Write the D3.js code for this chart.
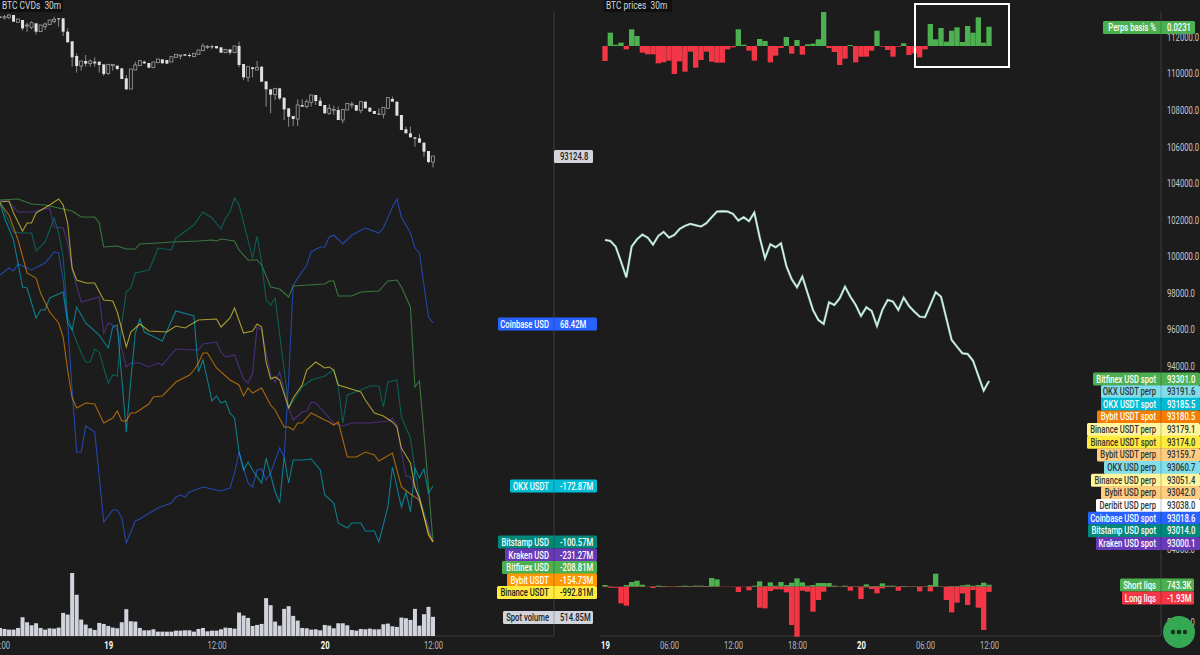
<!DOCTYPE html>
<html>
<head>
<meta charset="utf-8">
<title>BTC CVDs and prices</title>
<script src="https://cdn.jsdelivr.net/npm/d3@7"></script>
<style>
    html, body { margin: 0; padding: 0; background: #1c1c1c; overflow: hidden; }
    text { font-family: Roboto, sans-serif; }
</style>
</head>
<body>
<div id="chart"></div>
<script>
// left pane: 30m candles, one per bar from 18th 12:00 to 20th 12:00
const candleOpen = [104800,104688,104744,104940,104324,104520,104016,103904,104240,103540,103960,104128,104380,104660,104660,103540,102728,101496,100656,101076,100852,101020,101020,100796,100040,100684,100684,100460,99620,98724,100320,100684,101020,100908,100516,100936,101216,101160,100992,101384,101524,101636,101580,101440,101636,101944,102252,102308,102336,102224,101776,102056,101776,102336,100824,99704,100544,100320,100600,99368,98696,98248,98780,97996,97100,96456,96204,97380,97240,97604,98220,97744,97380,96680,96960,96960,96120,96960,97408,97380,96904,97660,97156,96876,96652,96596,97100,97884,97660,96540,95336,95000,94664,94580,94216,93516,92592];
const candleHigh = [104856,104940,105024,104940,104604,104520,104296,104408,104240,104100,104296,104520,104800,104660,104660,103820,102728,101720,101076,101580,101216,101384,101020,100796,100796,100796,100684,100460,99900,100404,101020,101104,101104,100908,100992,101244,101216,101160,101440,101636,101580,101636,101720,101720,102000,102560,102420,102420,102336,102224,102056,102056,102336,102700,100824,100600,100544,101076,100600,99368,98696,98780,98780,97996,97100,96456,97856,97856,97856,98220,98220,98024,97380,97436,97324,97240,97016,97520,97660,97380,97660,97660,97156,96876,97100,97184,97996,98080,97660,96540,95560,95560,94664,94944,94216,93516,93096];
const candleLow = [104688,104576,104576,104380,104324,103624,103512,103736,103288,103540,103680,104128,104240,103960,103176,102644,100600,100096,100264,100600,100600,100600,100096,99816,99900,100264,100320,99564,98640,98724,100320,100684,100824,100460,100516,100936,100880,100852,100992,101384,101216,101524,101384,101440,101636,101944,102084,102084,102140,101776,101776,101580,101776,100544,99480,99340,99704,100320,99340,97240,96680,97800,97800,96120,95560,95616,95616,97240,97100,97240,97380,97296,96680,96540,96540,96120,95840,96960,97100,96904,96680,97100,96820,96624,96596,96260,97100,97660,96484,95280,95000,94664,93880,94216,93040,92480,92144];
const candleClose = [104744,104800,104940,104380,104604,103820,104100,104296,103540,104100,104184,104520,104576,104576,103540,102644,101384,100656,101076,100852,101076,100880,100740,99984,100796,100796,100404,99564,98696,100404,100740,101104,100880,100516,100992,101244,100880,100852,101440,101636,101580,101524,101524,101720,102000,102336,102308,102252,102140,101776,102056,101776,102336,100740,99704,100600,100404,100544,99340,98696,98248,98780,97940,97016,96400,96204,97380,97240,97660,98220,97716,97296,96680,97100,97016,96120,97016,97520,97464,96904,97660,97100,96820,96624,96596,97184,97996,97660,96484,95280,95000,94664,94552,94216,93460,92592,93096];

// spot volume in millions, one per bar
const spotVolume = [216,189,171,171,216,504,369,288,342,216,171,207,198,225,621,576,1692,1107,441,306,207,162,351,324,270,225,207,369,720,396,387,216,153,153,180,117,117,117,117,144,144,153,153,117,189,216,126,144,144,180,225,216,198,630,549,486,270,297,324,1017,828,387,279,729,801,540,414,216,207,171,180,153,297,279,207,342,342,288,162,144,189,180,198,180,180,315,333,261,243,495,477,432,729,279,585,783,515];

// CVD lines are overlaid on their own scales, so these are relative readings: bar index + level in the pane
const bitfinexBars = [0,4,7,10,13,16,18,21,22,23,26,28,30,31,35,38,44,47,48,49,52,53,55,57,58,60,62,64,65,72,73,74,75,78,80,84,86,88,89,91,92,93,96];
const bitfinexCvd = [343,344,339,338,335,332,326,326,320,296,297,294,294,299,300,301,302,303,302,304,302,293,283,283,278,256,254,246,257,259,262,262,247,247,251,252,262,263,256,236,156,162,2];
const bitstampBars = [0,3,5,7,8,10,11,12,13,14,15,16,18,19,20,21,22,24,25,26,27,28,29,30,31,33,34,35,38,39,43,45,47,49,50,51,52,53,56,57,58,59,60,61,63,64,67,69,72,74,75,76,77,80,82,84,85,86,88,89,91,92,93,96];
const bitstampCvd = [341,311,310,310,292,301,313,325,310,286,226,213,190,181,181,194,191,160,168,167,220,251,255,270,271,273,283,295,293,305,318,331,325,314,325,331,345,338,285,307,281,243,238,245,173,135,156,163,167,173,156,120,148,153,157,157,136,161,163,126,105,73,46,1];
const krakenBars = [0,2,4,7,11,12,14,15,16,18,22,23,24,25,26,28,29,31,33,35,36,39,43,44,45,48,49,50,52,53,54,55,56,57,58,60,61,62,64,65,67,68,69,70,74,76,78,82,86,87,88,89,90,91,92,93,96];
const krakenCvd = [343,341,331,331,335,316,315,300,273,241,246,210,220,218,213,176,180,180,176,180,178,194,193,193,199,201,191,186,188,176,164,160,170,216,213,168,161,171,135,123,131,132,141,140,120,117,120,120,122,125,118,90,67,66,56,41,1];
const coinbaseBars = [0,2,3,4,7,10,12,13,14,15,16,17,18,19,21,23,25,26,27,28,30,31,35,38,39,40,41,42,45,49,51,52,53,54,55,56,57,58,59,60,62,63,64,65,68,69,71,72,73,74,76,78,81,84,85,87,88,89,91,92,93,95,96];
const coinbaseCvd = [268,275,272,279,273,280,291,290,263,220,153,91,91,117,111,21,33,33,25,0,22,24,35,40,46,48,46,51,56,52,55,70,91,75,60,56,73,74,63,70,95,86,163,258,278,291,296,296,306,308,299,308,315,310,315,336,344,326,310,295,290,226,220];
const okxBars = [0,1,3,5,6,8,9,10,11,14,15,16,17,19,22,24,25,26,28,29,30,31,32,36,39,43,44,45,46,47,48,49,50,51,52,53,54,55,56,58,59,61,62,63,64,65,67,69,71,72,74,75,77,78,80,81,83,84,86,87,89,90,91,92,93,94,95,96];
const okxCvd = [340,325,303,256,255,225,233,233,245,251,220,213,236,220,208,195,216,218,111,163,210,224,211,202,232,227,171,183,163,142,147,140,142,130,125,91,73,81,73,60,85,51,40,86,60,83,83,84,73,48,40,20,15,20,20,12,12,1,36,76,36,51,31,75,65,74,50,57];
const bybitBars = [0,2,4,6,8,9,11,13,14,15,16,17,19,21,23,25,26,27,28,29,30,33,34,36,39,42,43,44,45,46,48,51,53,54,55,56,58,60,61,63,64,65,66,67,69,72,73,74,75,77,79,81,83,84,87,89,91,93,95,96];
const bybitCvd = [340,328,303,270,265,250,231,220,206,173,145,135,140,139,120,125,132,122,122,130,130,139,146,147,161,168,173,180,190,190,175,163,158,147,155,150,155,138,133,116,116,113,120,120,130,123,121,118,121,86,86,91,88,82,90,56,49,43,10,1];
const binanceBars = [0,2,3,5,6,7,8,11,13,14,15,16,17,19,21,23,25,26,28,29,31,33,37,39,41,44,48,49,51,52,54,56,57,58,59,60,61,62,64,65,67,68,70,72,73,74,75,80,81,83,85,87,88,89,91,92,93,95,96];
const binanceCvd = [341,342,330,312,320,320,330,338,344,338,320,275,263,260,260,243,242,231,196,211,219,212,211,217,215,223,224,216,225,235,210,212,219,216,181,164,166,163,135,145,158,173,181,175,176,173,158,151,143,130,127,121,116,95,80,56,45,8,1];

const cvdColors = ["#4caf50", "#00897b", "#673ab7", "#2962ff", "#00bcd4", "#ff9800", "#ffeb3b"];

// left pane labels
const cvdLabelNames = ["Coinbase USD", "OKX USDT", "Bitstamp USD", "Kraken USD", "Bitfinex USD", "Bybit USDT", "Binance USDT", "Spot volume"];
const cvdLabelValues = ["68.42M", "-172.87M", "-100.57M", "-231.27M", "-208.81M", "-154.73M", "-992.81M", "514.85M"];
const cvdLabelColors = ["#2962ff", "#00bcd4", "#00897b", "#673ab7", "#4caf50", "#ff9800", "#ffeb3b", "#d1d4dc"];
const cvdLabelInk = ["#fff", "#fff", "#fff", "#fff", "#fff", "#fff", "#222", "#222"];

// right pane: perps basis %, one per bar from 19th 00:00 to 20th 12:00
const perpsBasis = [-0.018,0.016,0.0016,0.004,-0.004,0.02,0.012,-0.008,-0.01,-0.01,-0.0208,-0.0196,-0.0176,-0.0336,-0.0184,-0.0308,-0.0068,-0.026,-0.0168,-0.0068,-0.0188,-0.02,-0.02,-0.004,-0.0016,0.02,0.0016,-0.0056,-0.0176,0.0084,0.006,-0.0196,-0.0116,-0.0024,0.0108,-0.0092,0.0072,-0.0104,0.002,0.0028,0.008,0.0408,-0.0024,-0.0072,-0.0228,-0.0152,0.0012,-0.0196,-0.0128,-0.0128,-0.0056,0.0184,-0.0008,-0.0048,-0.0128,-0.0008,0.0032,-0.0108,-0.0088,-0.0136,-0.004,0.0264,0.008,0.0216,0.0052,0.0184,0.0224,0.0048,0.024,0.016,0.0344,0.004,0.0231];

// average price of the venues (they sit almost on top of each other)
const spotPrice = [100899,100844,100534,99712,98855,100534,100935,101190,101026,100643,101118,101337,101026,101172,101501,101665,101775,101702,101629,101811,102140,102450,102468,102450,102322,101957,102140,101921,102395,101045,99895,100661,100497,100716,99475,98745,98307,98891,97979,97066,96519,96300,97486,97340,97705,98344,97796,97340,96738,97212,97011,96190,97066,97614,97522,97066,97741,97285,96975,96701,96665,97340,98033,97796,96610,95424,95059,94694,94657,94292,93471,92649,93179];

// liquidations in thousands
const shortLiqs = [625,125,0,0,625,1750,2250,750,0,125,375,250,125,125,250,375,250,375,375,250,3250,2750,0,0,0,0,0,125,375,2000,250,1625,375,1750,625,1500,3125,1625,375,625,1375,1375,1375,375,125,375,125,125,125,875,250,250,1250,375,375,125,250,125,125,125,125,625,4875,125,125,250,250,500,750,375,625,1500,743];
const longLiqs = [-125,-375,-375,-6250,-7125,-125,-125,-125,-125,-500,-125,-125,-125,-125,-125,-125,-125,-125,-125,-125,-125,-125,-125,-125,-125,-2000,-125,-1375,-125,-7875,-8125,-1625,-1000,-1000,-2125,-14375,-18750,-1500,-1875,-9375,-5000,-1875,-125,-125,-125,-125,-1500,-125,-4625,-250,-875,-2500,-625,-125,-125,-1500,-125,-125,-125,-1750,-125,-1750,-125,-125,-5000,-9625,-6000,-2500,-6875,-1250,-7875,-16250,-1930];

// right pane labels
const priceLabelNames = ["Bitfinex USD spot", "OKX USDT perp", "OKX USDT spot", "Bybit USDT spot", "Binance USDT perp", "Binance USDT spot", "Bybit USDT perp", "OKX USD perp", "Binance USD perp", "Bybit USD perp", "Deribit USD perp", "Coinbase USD spot", "Bitstamp USD spot", "Kraken USD spot"];
const priceLabelValues = ["93301.0", "93191.6", "93185.5", "93180.5", "93179.1", "93174.0", "93159.7", "93060.7", "93051.4", "93042.0", "93038.0", "93018.6", "93014.0", "93000.1"];
const priceLabelColors = ["#4caf50", "#80deea", "#00bcd4", "#f57c00", "#fff59d", "#ffeb3b", "#ffcc80", "#80deea", "#fff59d", "#ffcc80", "#ffffff", "#2962ff", "#00897b", "#673ab7"];
const priceLabelInk = ["#fff", "#333", "#fff", "#fff", "#333", "#333", "#333", "#333", "#333", "#333", "#333", "#fff", "#fff", "#fff"];

// tick labels (92000-86000 and 82000 sit fully under the tags, so they are left out)
const leftTickBars = [0, 24, 48, 72, 96];
const leftTickLabels = ["12:00", "19", "12:00", "20", "12:00"];
const rightTickBars = [0, 12, 24, 36, 48, 60, 72];
const rightTickLabels = ["19", "06:00", "12:00", "18:00", "20", "06:00", "12:00"];
const priceTicks = [112000,110000,108000,106000,104000,102000,100000,98000,96000,94000,84000,80000];

// SVG properties
const width = 1200,
    height = 655,
    bgColor = "#1c1c1c",
    inkColor = "#d1d4dc",
    leftAxisX = 554,
    rightAxisX = 1161,
    bottomY = 636,
    barGreen = "#4caf50",
    barRed = "#f23645";

const svg = d3.select("#chart")
    .append("svg")
    .attr("width", width)
    .attr("height", height)
    .style("display", "block");

// scales
const xLeft = d3.scaleLinear().domain([0, 96]).range([0, 433]);
const xRight = d3.scaleLinear().domain([0, 72]).range([605, 989]);
const candleY = d3.scaleLinear().domain([106200, 92000]).range([0, 169.05]);
const volumeY = d3.scaleLinear().domain([0, 1692]).range([bottomY, 573]);
const cvdY = d3.scaleLinear().domain([0, 346]).range([543, 197]);
const basisY = d3.scaleLinear().domain([-0.036, 0.048]).range([76, 6]);
const priceY = d3.scaleLinear().domain([112000, 94000]).range([37, 366]);
const liqY = d3.scaleLinear().domain([0, -18750]).range([586.7, 636.7]);

// pane frames
svg.append("g")
    .selectAll("line")
    .data([[leftAxisX, 12, leftAxisX, bottomY], [0, bottomY, leftAxisX, bottomY], [rightAxisX, 12, rightAxisX, bottomY], [600, bottomY, rightAxisX, bottomY]])
    .enter()
    .append("line")
    .attr("x1", d => d[0])
    .attr("y1", d => d[1])
    .attr("x2", d => d[2])
    .attr("y2", d => d[3])
    .attr("stroke", "#3c3c3c");

// candles
const candleWidth = 3;
const candles = svg.append("g")
    .selectAll("g")
    .data(candleOpen)
    .enter()
    .append("g");

candles.append("line")
    .attr("x1", (d, i) => xLeft(i))
    .attr("x2", (d, i) => xLeft(i))
    .attr("y1", (d, i) => candleY(candleHigh[i]))
    .attr("y2", (d, i) => candleY(candleLow[i]))
    .attr("stroke", "#8c8c8c");

candles.append("rect")
    .attr("x", (d, i) => xLeft(i) - candleWidth / 2)
    .attr("width", candleWidth)
    .attr("y", (d, i) => candleY(Math.max(d, candleClose[i])))
    .attr("height", (d, i) => Math.max(1, Math.abs(candleY(d) - candleY(candleClose[i]))))
    .attr("fill", (d, i) => candleClose[i] > d ? bgColor : "#dfe1e6")
    .attr("stroke", (d, i) => candleClose[i] > d ? "#a0a0a0" : "none")
    .attr("stroke-width", 0.8);

// CVD lines
const cvdSeries = [
    [bitfinexBars, bitfinexCvd],
    [bitstampBars, bitstampCvd],
    [krakenBars, krakenCvd],
    [coinbaseBars, coinbaseCvd],
    [okxBars, okxCvd],
    [bybitBars, bybitCvd],
    [binanceBars, binanceCvd]
];
const cvdLine = d3.line()
    .x(d => xLeft(d[0]))
    .y(d => cvdY(d[1]));

svg.append("g")
    .selectAll("path")
    .data(cvdSeries)
    .enter()
    .append("path")
    .attr("d", s => cvdLine(d3.zip(s[0], s[1])))
    .attr("fill", "none")
    .attr("stroke", (s, i) => cvdColors[i])
    .attr("stroke-opacity", 0.62)
    .attr("stroke-width", 1.1);

// spot volume
svg.append("g")
    .selectAll("rect")
    .data(spotVolume)
    .enter()
    .append("rect")
    .attr("x", (d, i) => xLeft(i) - 2)
    .attr("width", 4)
    .attr("y", d => volumeY(d))
    .attr("height", d => bottomY - volumeY(d))
    .attr("fill", "#d1d4dc");

// perps basis
const rightBarWidth = 5.33;
svg.append("g")
    .selectAll("rect")
    .data(perpsBasis)
    .enter()
    .append("rect")
    .attr("x", (d, i) => xRight(i) - rightBarWidth / 2)
    .attr("width", rightBarWidth)
    .attr("y", d => basisY(Math.max(d, 0)))
    .attr("height", d => Math.abs(basisY(d) - basisY(0)))
    .attr("fill", d => d >= 0 ? barGreen : barRed);

// highlight box around the last bars
svg.append("rect")
    .attr("x", 915)
    .attr("y", 4)
    .attr("width", 94)
    .attr("height", 63)
    .attr("fill", "none")
    .attr("stroke", "#fff")
    .attr("stroke-width", 2);

// price lines
const priceLine = d3.line()
    .x((d, i) => xRight(i))
    .y(d => priceY(d));

svg.append("path")
    .attr("d", priceLine(spotPrice))
    .attr("fill", "none")
    .attr("stroke", "#9fdcb4")
    .attr("stroke-opacity", 0.6)
    .attr("stroke-width", 2.4);

svg.append("path")
    .attr("d", priceLine(spotPrice))
    .attr("fill", "none")
    .attr("stroke", "#d2f0ee")
    .attr("stroke-width", 1.5);

// liquidations
[[shortLiqs, barGreen], [longLiqs, barRed]].forEach(([values, color]) => {
    svg.append("g")
        .selectAll("rect")
        .data(values)
        .enter()
        .append("rect")
        .attr("x", (d, i) => xRight(i) - rightBarWidth / 2)
        .attr("width", rightBarWidth)
        .attr("y", d => d >= 0 ? liqY(0) - (liqY(-d) - liqY(0)) : liqY(0))
        .attr("height", d => Math.abs(liqY(-Math.abs(d)) - liqY(0)))
        .attr("fill", color);
});

// axes
function styleAxis(g, labels) {
    g.select(".domain").remove();
    g.selectAll("text")
        .attr("font-size", 10.5)
        .attr("fill", (d, i) => labels[i].length === 2 ? "#ffffff" : "#b2b5be")
        .attr("font-weight", (d, i) => labels[i].length === 2 ? 700 : 400);
}

svg.append("g")
    .attr("transform", `translate(0, ${ bottomY })`)
    .call(d3.axisBottom(xLeft).tickValues(leftTickBars).tickSize(0).tickPadding(6)
        .tickFormat((d, i) => leftTickLabels[i]))
    .call(g => styleAxis(g, leftTickLabels));

svg.append("g")
    .attr("transform", `translate(0, ${ bottomY })`)
    .call(d3.axisBottom(xRight).tickValues(rightTickBars).tickSize(0).tickPadding(6)
        .tickFormat((d, i) => rightTickLabels[i]))
    .call(g => styleAxis(g, rightTickLabels));

const priceAxis = svg.append("g")
    .attr("transform", `translate(${ rightAxisX }, 0)`)
    .call(d3.axisRight(priceY).tickValues(priceTicks).tickSize(0).tickPadding(6)
        .tickFormat(d3.format(".1f")));
priceAxis.select(".domain").remove();
priceAxis.selectAll("text")
    .attr("font-size", 10.5)
    .attr("fill", "#c4c7cf");

// pane titles
function addTitle(x, label, boxWidth) {
    svg.append("rect")
        .attr("x", x)
        .attr("y", 0)
        .attr("width", boxWidth)
        .attr("height", 12)
        .attr("fill", "#101010");
    svg.append("text")
        .attr("class", "title")
        .attr("x", x + 2)
        .attr("y", 9)
        .attr("font-size", 10.5)
        .attr("fill", inkColor)
        .attr("xml:space", "preserve")
        .text(label);
}
addTitle(0, "BTC CVDs  30m", 63);
addTitle(604, "BTC prices  30m", 68);

// two-part tags sitting on an axis line: name on the left of it, value on the right
function addTag(tag) {
    const g = svg.append("g");
    g.append("rect")
        .attr("x", tag.left)
        .attr("y", tag.y - 6.5)
        .attr("width", tag.right - tag.left)
        .attr("height", 13)
        .attr("rx", 1.5)
        .attr("fill", tag.color);
    g.append("line")
        .attr("x1", tag.axis)
        .attr("x2", tag.axis)
        .attr("y1", tag.y - 6.5)
        .attr("y2", tag.y + 6.5)
        .attr("stroke", "#000")
        .attr("stroke-opacity", 0.22);
    g.append("text")
        .attr("x", tag.axis - 5)
        .attr("y", tag.y + 3.5)
        .attr("text-anchor", "end")
        .attr("font-size", 10.5)
        .attr("font-weight", 500)
        .attr("fill", tag.ink)
        .text(tag.name);
    g.append("text")
        .attr("x", tag.axis + 6)
        .attr("y", tag.y + 3.5)
        .attr("font-size", 10.5)
        .attr("font-weight", 500)
        .attr("fill", tag.ink)
        .text(tag.value);
}

// left pane tags
const cvdLabelY = [324, 486, 542, 555, 567.5, 580, 592.5, 617.5];
const cvdLabelLeft = [498, 510, 498, 505, 502, 507, 497, 503];
const cvdLabelRight = [597, 597, 597, 597, 597, 597, 597, 593];
cvdLabelNames.forEach((name, i) => addTag({
    name, value: cvdLabelValues[i], y: cvdLabelY[i], left: cvdLabelLeft[i], right: cvdLabelRight[i],
    axis: leftAxisX, color: cvdLabelColors[i], ink: cvdLabelInk[i]
}));

// last price tag of the candles
svg.append("rect")
    .attr("x", leftAxisX)
    .attr("y", 150)
    .attr("width", 39)
    .attr("height", 13)
    .attr("rx", 1.5)
    .attr("fill", inkColor);
svg.append("text")
    .attr("x", leftAxisX + 6)
    .attr("y", 160)
    .attr("font-size", 10.5)
    .attr("font-weight", 500)
    .attr("fill", "#222")
    .text("93124.8");

// right pane tags
const priceLabelLeft = [1093, 1101, 1101, 1097, 1087, 1087, 1097, 1104, 1091, 1101, 1096, 1088, 1088, 1096];
priceLabelNames.forEach((name, i) => addTag({
    name, value: priceLabelValues[i], y: 379 + i * 12.65, left: priceLabelLeft[i], right: 1200,
    axis: rightAxisX, color: priceLabelColors[i], ink: priceLabelInk[i]
}));

addTag({ name: "Perps basis %", value: "0.0231", y: 27.5, left: 1103, right: 1195, axis: rightAxisX, color: barGreen, ink: "#fff" });
addTag({ name: "Short liqs", value: "743.3K", y: 585, left: 1120, right: 1194, axis: rightAxisX, color: barGreen, ink: "#fff" });
addTag({ name: "Long liqs", value: "-1.93M", y: 598, left: 1122, right: 1194, axis: rightAxisX, color: barRed, ink: "#fff" });

// round green button in the corner
svg.append("circle")
    .attr("cx", 1179)
    .attr("cy", 632)
    .attr("r", 16)
    .attr("fill", "#34a853");
svg.append("g")
    .selectAll("circle")
    .data([-6, 0, 6])
    .enter()
    .append("circle")
    .attr("cx", d => 1179 + d)
    .attr("cy", 632)
    .attr("r", 2.2)
    .attr("fill", "#123018");

// the original font is a condensed one, so squeeze Roboto to the same widths
svg.selectAll("text").each(function() {
    const ratio = this.getAttribute("class") === "title" ? 0.8 : 0.73;
    this.setAttribute("textLength", this.getComputedTextLength() * ratio);
    this.setAttribute("lengthAdjust", "spacingAndGlyphs");
});
</script>
</body>
</html>
